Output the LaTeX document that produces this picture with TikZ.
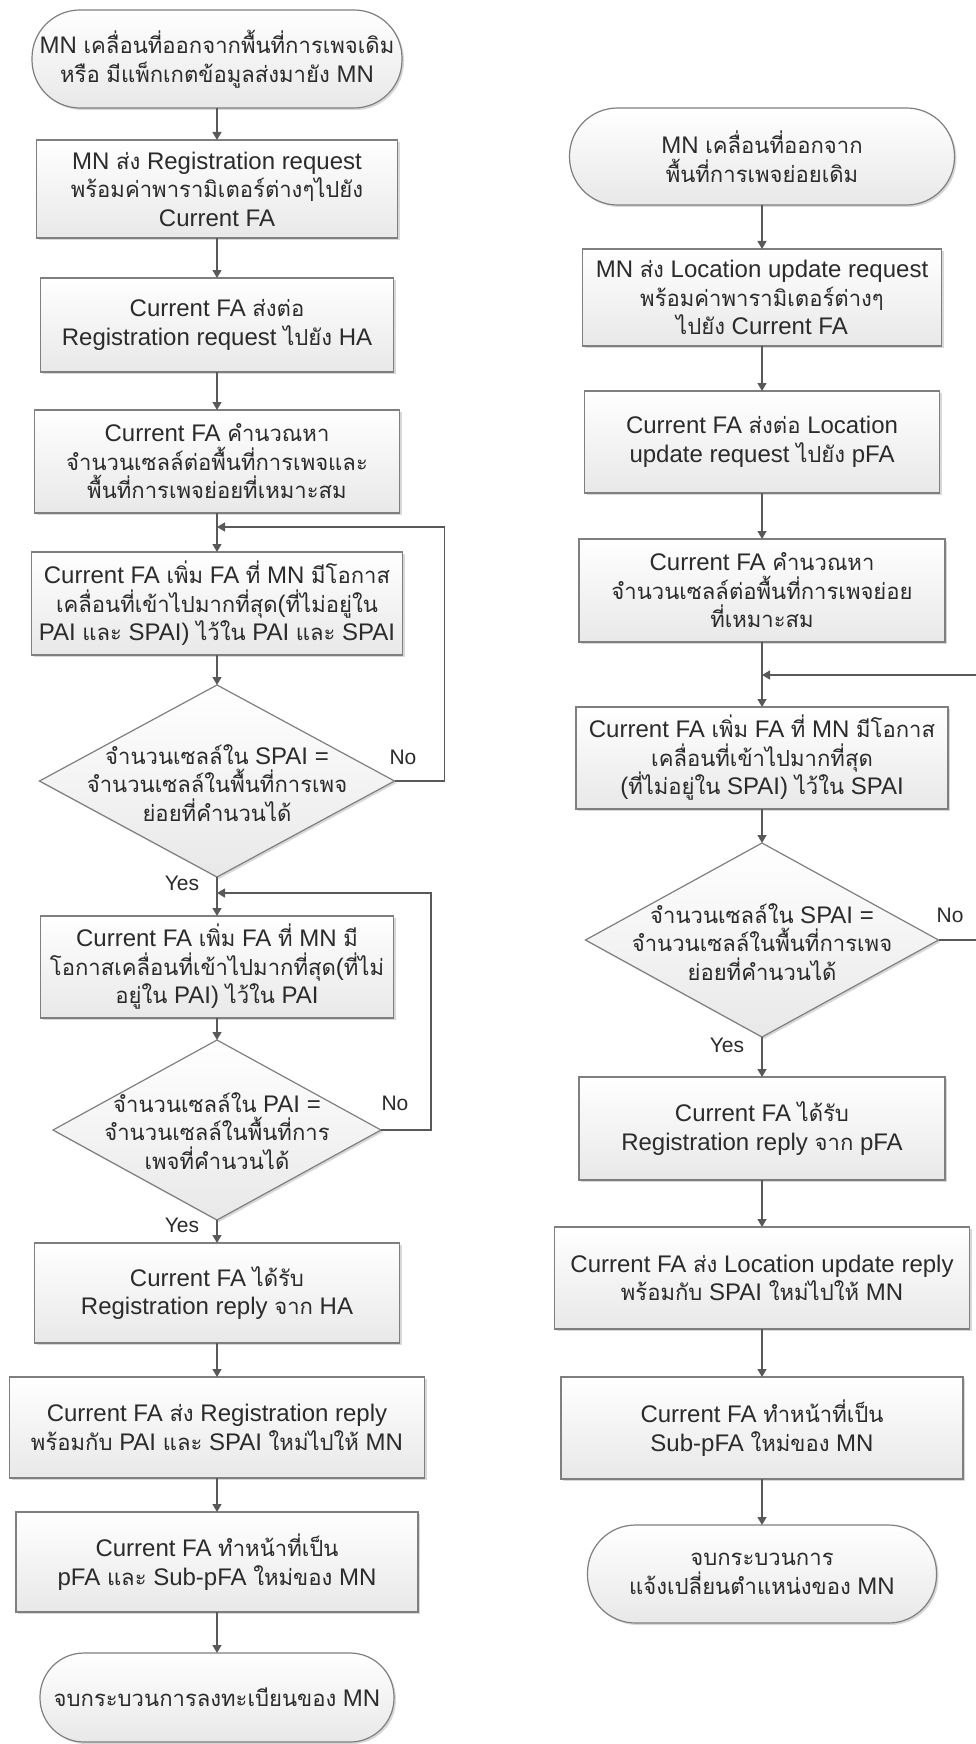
\documentclass[tikz,border=0pt]{standalone}
\usepackage{fontspec}
\setmainfont{Liberation Sans}
\newfontfamily\latinfont{Liberation Sans}
\newfontfamily\thaifont[Script=Thai,Scale=0.92]{Loma}
\XeTeXinterchartokenstate=1
\ifdefined\newXeTeXintercharclass \newXeTeXintercharclass\ThaiCls \else \chardef\ThaiCls=7 \fi
\count255="0E00
\loop
  \XeTeXcharclass\count255=\ThaiCls
  \advance\count255 by 1
\ifnum\count255<"0E80 \repeat
\XeTeXinterchartoks 0 \ThaiCls = {\thaifont}
\XeTeXinterchartoks 4095 \ThaiCls = {\thaifont}
\XeTeXinterchartoks \ThaiCls 0 = {\latinfont}
\XeTeXinterchartoks \ThaiCls 4095 = {\latinfont}
\usetikzlibrary{shapes.geometric,shadows,arrows.meta}
\definecolor{bordc}{HTML}{7F7F7F}
\definecolor{linec}{HTML}{595959}
\definecolor{txtc}{HTML}{2B2B2B}
\newcommand\mainfs{\fontsize{24}{28.5}\selectfont}
\newcommand\labfs{\fontsize{21}{24}\selectfont}
\tikzset{
  box/.style={draw=bordc, line width=1.2pt, top color=white, bottom color=black!9,
    drop shadow={shadow xshift=2pt, shadow yshift=-2pt, opacity=0.3},
    inner sep=0pt, outer sep=0pt, align=center, text=txtc, font=\mainfs},
  term/.style={box, rounded corners=48pt},
  dec/.style={box, diamond},
  dtext/.style={inner sep=0pt, align=center, text=txtc, font=\mainfs},
  arr/.style={draw=linec, line width=1.3pt, -{Triangle[width=9pt,length=8pt]}},
  lab/.style={font=\labfs, text=txtc, inner sep=0pt}
}
\begin{document}
\begin{tikzpicture}[x=1pt,y=-1pt]
\fill[white] (0,0) rectangle (976,1744);
\useasboundingbox (0,0) rectangle (976,1744);
% ---------------- left column ----------------
\node[term, minimum width=370pt, minimum height=98pt] (l1) at (217,59) {MN เคลื่อนที่ออกจากพื้นที่การเพจเดิม\\หรือ มีแพ็กเกตข้อมูลส่งมายัง MN};
\node[box, minimum width=361pt, minimum height=98pt] (l2) at (217,189) {MN ส่ง Registration request\\พร้อมค่าพารามิเตอร์ต่างๆไปยัง\\Current FA};
\node[box, minimum width=353pt, minimum height=94pt] (l3) at (217,325) {Current FA ส่งต่อ\\Registration request ไปยัง HA};
\node[box, minimum width=365pt, minimum height=103pt] (l4) at (217,461.5) {Current FA คำนวณหา\\จำนวนเซลล์ต่อพื้นที่การเพจและ\\พื้นที่การเพจย่อยที่เหมาะสม};
\node[box, minimum width=371pt, minimum height=103pt] (l5) at (217,603.5) {Current FA เพิ่ม FA ที่ MN มีโอกาส\\เคลื่อนที่เข้าไปมากที่สุด(ที่ไม่อยู่ใน\\PAI และ SPAI) ไว้ใน PAI และ SPAI};
\node[dec, minimum width=355pt, minimum height=192pt] (d1) at (217,781) {};
\node[dtext] (d1t) at (217,783) {จำนวนเซลล์ใน SPAI =\\จำนวนเซลล์ในพื้นที่การเพจ\\ย่อยที่คำนวนได้};
\node[box, minimum width=353pt, minimum height=102pt] (l6) at (217,967) {Current FA เพิ่ม FA ที่ MN มี\\โอกาสเคลื่อนที่เข้าไปมากที่สุด(ที่ไม่\\อยู่ใน PAI) ไว้ใน PAI};
\node[dec, minimum width=328pt, minimum height=180pt] (d2) at (217,1130) {};
\node[dtext] (d2t) at (217,1131) {จำนวนเซลล์ใน PAI =\\จำนวนเซลล์ในพื้นที่การ\\เพจที่คำนวนได้};
\node[box, minimum width=365pt, minimum height=100pt] (l7) at (217,1293) {Current FA ได้รับ\\Registration reply จาก HA};
\node[box, minimum width=415pt, minimum height=101pt] (l8) at (217,1427.5) {Current FA ส่ง Registration reply\\พร้อมกับ PAI และ SPAI ใหม่ไปให้ MN};
\node[box, minimum width=402pt, minimum height=100pt] (l9) at (217,1562) {Current FA ทำหน้าที่เป็น\\pFA และ Sub-pFA ใหม่ของ MN};
\node[term, minimum width=354pt, minimum height=89pt, rounded corners=44pt] (l10) at (217,1697.5) {จบกระบวนการลงทะเบียนของ MN};
\coordinate (j1) at (217,527);
\coordinate (j2) at (217,893);
\draw[arr] (l1) -- (l2);
\draw[arr] (l2) -- (l3);
\draw[arr] (l3) -- (l4);
\draw[arr] (l4) -- (l5);
\draw[arr] (l5) -- (d1);
\draw[arr] (d1) -- (l6);
\draw[arr] (l6) -- (d2);
\draw[arr] (d2) -- (l7);
\draw[arr] (l7) -- (l8);
\draw[arr] (l8) -- (l9);
\draw[arr] (l9) -- (l10);
\draw[arr] (d1.east) -- ++(50,0) |- (j1);
\draw[arr] (d2.east) -- ++(50,0) |- (j2);
\node[lab] (no1) at (403,757) {No};
\node[lab] (yes1) at (182,883) {Yes};
\node[lab] (no2) at (395,1103) {No};
\node[lab] (yes2) at (182,1225) {Yes};
% ---------------- right column ----------------
\node[term, minimum width=385pt, minimum height=97pt] (r1) at (762,156.5) {MN เคลื่อนที่ออกจาก\\พื้นที่การเพจย่อยเดิม};
\node[box, minimum width=359pt, minimum height=97pt] (r2) at (762,297.5) {MN ส่ง Location update request\\พร้อมค่าพารามิเตอร์ต่างๆ\\ไปยัง Current FA};
\node[box, minimum width=355pt, minimum height=102pt] (r3) at (762,442) {Current FA ส่งต่อ Location\\update request ไปยัง pFA};
\node[box, minimum width=366pt, minimum height=103pt] (r4) at (762,590.5) {Current FA คำนวณหา\\จำนวนเซลล์ต่อพื้นที่การเพจย่อย\\ที่เหมาะสม};
\node[box, minimum width=372pt, minimum height=102pt] (r5) at (762,758) {Current FA เพิ่ม FA ที่ MN มีโอกาส\\เคลื่อนที่เข้าไปมากที่สุด\\(ที่ไม่อยู่ใน SPAI) ไว้ใน SPAI};
\node[dec, minimum width=353pt, minimum height=194pt] (dr) at (762,940) {};
\node[dtext] (drt) at (762,942) {จำนวนเซลล์ใน SPAI =\\จำนวนเซลล์ในพื้นที่การเพจ\\ย่อยที่คำนวนได้};
\node[box, minimum width=366pt, minimum height=103pt] (r6) at (762,1128.5) {Current FA ได้รับ\\Registration reply จาก pFA};
\node[box, minimum width=415pt, minimum height=102pt] (r7) at (762,1278) {Current FA ส่ง Location update reply\\พร้อมกับ SPAI ใหม่ไปให้ MN};
\node[box, minimum width=402pt, minimum height=102pt] (r8) at (762,1428) {Current FA ทำหน้าที่เป็น\\Sub-pFA ใหม่ของ MN};
\node[term, minimum width=349pt, minimum height=98pt] (r9) at (762,1574) {จบกระบวนการ\\แจ้งเปลี่ยนตำแหน่งของ MN};
\coordinate (jr) at (762,675);
\draw[arr] (r1) -- (r2);
\draw[arr] (r2) -- (r3);
\draw[arr] (r3) -- (r4);
\draw[arr] (r4) -- (r5);
\draw[arr] (r5) -- (dr);
\draw[arr] (dr) -- (r6);
\draw[arr] (r6) -- (r7);
\draw[arr] (r7) -- (r8);
\draw[arr] (r8) -- (r9);
\draw[arr] (dr.east) -- ++(60,0) |- (jr);
\node[lab] (nor) at (950,915) {No};
\node[lab] (yesr) at (727,1045) {Yes};
\end{tikzpicture}
\end{document}
